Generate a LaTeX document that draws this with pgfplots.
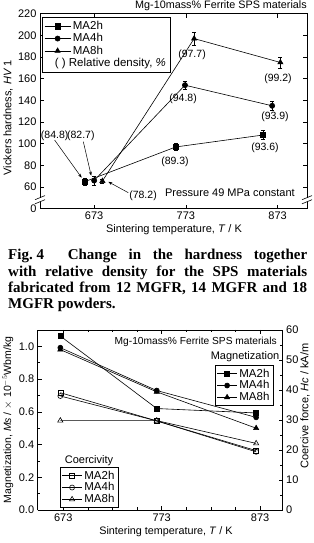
\documentclass[border=0pt]{standalone}
\usepackage{pgfplots}
\pgfplotsset{compat=1.18}
\usepackage{fontspec}
\setmainfont{Liberation Sans}
\newfontfamily\capfont{Liberation Serif}
\usetikzlibrary{arrows.meta}
\newcommand{\fs}[1]{\fontsize{#1}{#1}\selectfont}
\pgfplotsset{
  every axis/.append style={
    /pgf/number format/assume math mode=true,
    tick label style={font=\fs{11}},
    axis line style={line width=0.7pt},
    every tick/.style={line width=0.6pt, black},
    major tick length=4pt, minor tick length=2.5pt,
  },
  ebar/.style={error bars/.cd, y dir=both, y explicit,
    error bar style={line width=0.5pt}, error mark options={rotate=90, mark size=2pt, line width=0.5pt}},
}
\begin{document}
\begin{tikzpicture}
% ================= TOP CHART =================
\begin{scope}[shift={(40pt,334.3pt)}]
\begin{axis}[
  scale only axis, width=267pt, height=195pt,
  xmin=614, xmax=905, ymin=40, ymax=220,
  xtick={673,773,873},
  ytick={40,60,80,100,120,140,160,180,200,220},
  yticklabels={0,60,80,100,120,140,160,180,200,220},
  clip=false,
  legend cell align=left,
  legend style={at={(0.0075,0.983)}, anchor=north west, draw=black, line width=0.6pt,
    font=\fs{11.5}, row sep=-1.5pt, inner sep=2pt},
  legend image code/.code={\draw[mark repeat=2,mark phase=2,#1] plot coordinates {(0pt,0pt) (13pt,0pt) (26pt,0pt)};},
]
\addplot[black, line width=0.6pt, mark=square*, mark size=2.6pt, mark options={fill=black, solid}, ebar]
  coordinates {(663,65) +- (0,3) (762,97) +- (0,3) (857,108) +- (0,4)};
\addlegendentry{MA2h}
\addplot[black, line width=0.6pt, mark=*, mark size=2.6pt, mark options={fill=black}, ebar]
  coordinates {(673,66) +- (0,4) (772,154) +- (0,4) (867,135) +- (0,4)};
\addlegendentry{MA4h}
\addplot[black, line width=0.6pt, mark=triangle*, mark size=3pt, mark options={fill=black}, ebar]
  coordinates {(682,65.5) +- (0,2) (782,197) +- (0,6) (876,175) +- (0,5)};
\addlegendentry{MA8h}
\addlegendimage{empty legend}
\addlegendentry{\hspace*{-18pt}( ) Relative density, \textit{\%}}
% annotations
\begin{scope}[every node/.style={font=\fs{10.5}, inner sep=0pt}]
\node at (axis cs:630,107) {(84.8)};
\node at (axis cs:658.5,107) {(82.7)};
\node at (axis cs:726.3,51.7) {(78.2)};
\node at (axis cs:761.1,83.1) {(89.3)};
\node at (axis cs:859.2,96) {(93.6)};
\node at (axis cs:769.9,141.8) {(94.8)};
\node at (axis cs:870.1,124.7) {(93.9)};
\node at (axis cs:779.7,182) {(97.7)};
\node at (axis cs:873.4,159.8) {(99.2)};
\node[font=\fs{11}] at (axis cs:821,54.5) {Pressure 49 MPa constant};
\end{scope}
\draw[-{Stealth[length=4pt,width=3pt]}, line width=0.5pt] (axis cs:630,103.3) -- (axis cs:659.4,68.6);
\draw[-{Stealth[length=4pt,width=3pt]}, line width=0.5pt] (axis cs:661.2,101.9) -- (axis cs:669.8,70.5);
\draw[-{Stealth[length=4pt,width=3pt]}, line width=0.5pt] (axis cs:710.2,54.8) -- (axis cs:688.5,64.8);
% axis breaks
\fill[white] ([xshift=-5pt]axis cs:614,46.3) rectangle ([xshift=5pt]axis cs:614,50.2);
\draw[line width=0.6pt] ([xshift=-5pt]axis cs:614,44.5) -- ([xshift=5pt]axis cs:614,48.3);
\draw[line width=0.6pt] ([xshift=-5pt]axis cs:614,48.3) -- ([xshift=5pt]axis cs:614,52.1);
\fill[white] ([xshift=-5pt]axis cs:905,46.3) rectangle ([xshift=5pt]axis cs:905,50.2);
\draw[line width=0.6pt] ([xshift=-5pt]axis cs:905,44.5) -- ([xshift=5pt]axis cs:905,48.3);
\draw[line width=0.6pt] ([xshift=-5pt]axis cs:905,48.3) -- ([xshift=5pt]axis cs:905,52.1);
\end{axis}
\end{scope}
\node[anchor=east, font=\fs{10.8}, inner sep=0pt] at (307pt,537pt) {Mg-10mass\% Ferrite SPS materials};
\node[rotate=90, font=\fs{11}, inner sep=0pt] at (8pt,425pt) {Vickers hardness, \textit{HV}\,1};
\node[font=\fs{11}, inner sep=0pt] at (174pt,313pt) {Sintering temperature, \textit{T} / K};
% ================= CAPTION =================
\node[anchor=base west, inner sep=0pt] at (8pt,283pt) {\parbox[t]{299pt}{\capfont\bfseries\fontsize{15}{16.1}\selectfont
\mbox{Fig.~4}\hspace{0.8em} Change in the hardness together\linebreak
with relative density for the SPS materials\linebreak
fabricated from 12 MGFR, 14 MGFR and 18\linebreak
MGFR powders.}};
% ================= BOTTOM CHART =================
\begin{scope}[shift={(37.7pt,33pt)}]
\begin{axis}[
  scale only axis, width=245pt, height=180pt,
  xmin=647, xmax=896, ymin=0, ymax=1.1,
  axis y line*=left,
  xtick={673,773,873}, minor xtick={698,723,748,798,823,848},
  ytick={0,0.2,0.4,0.6,0.8,1.0}, minor ytick={0.1,0.3,0.5,0.7,0.9},
  yticklabel style={/pgf/number format/.cd,fixed,fixed zerofill,precision=1},
  legend cell align=left,
  legend style={at={(0.7237,0.8056)}, anchor=north west, draw=black, line width=0.6pt,
    font=\fs{11.5}, row sep=-2pt, inner sep=1.5pt},
  legend image code/.code={\draw[mark repeat=2,mark phase=2,#1] plot coordinates {(0pt,0pt) (10pt,0pt) (20pt,0pt)};},
]
\addplot[black, line width=0.6pt, mark=square*, mark size=2.5pt, mark options={fill=black}] coordinates {(670,1.063) (768,0.62) (869,0.593)};
\addlegendentry{MA2h}
\addplot[black, line width=0.6pt, mark=*, mark size=2.5pt, mark options={fill=black}] coordinates {(670,0.992) (768,0.73) (869,0.566)};
\addlegendentry{MA4h}
\addplot[black, line width=0.6pt, mark=triangle*, mark size=3pt, mark options={fill=black}] coordinates {(670,0.98) (768,0.722) (869,0.50)};
\addlegendentry{MA8h}
\end{axis}
\begin{axis}[
  scale only axis, width=245pt, height=180pt,
  xmin=647, xmax=896, ymin=0, ymax=60,
  axis y line*=right, axis x line=none,
  ytick={0,10,20,30,40,50,60}, minor ytick={5,15,25,35,45,55},
  legend cell align=left,
  legend style={at={(0.091,0.239)}, anchor=north west, draw=black, line width=0.6pt,
    font=\fs{11.5}, row sep=-2pt, inner sep=1.5pt},
  legend image code/.code={\draw[mark repeat=2,mark phase=2,#1] plot coordinates {(0pt,0pt) (10pt,0pt) (20pt,0pt)};},
]
\addplot[black, line width=0.6pt, mark=square, mark size=2.5pt, mark options={fill=white}] coordinates {(670,39.1) (768,29.7) (869,19.8)};
\addlegendentry{MA2h}
\addplot[black, line width=0.6pt, mark=o, mark size=2.5pt, mark options={fill=white}] coordinates {(670,38.0) (768,29.7) (869,19.4)};
\addlegendentry{MA4h}
\addplot[black, line width=0.6pt, mark=triangle, mark size=3pt, mark options={fill=white}] coordinates {(670,29.8) (768,29.8) (869,22.2)};
\addlegendentry{MA8h}
\end{axis}
\end{scope}
\node[anchor=east, font=\fs{10.2}, inner sep=0pt] at (277pt,201pt) {Mg-10mass\% Ferrite SPS materials};
\node[font=\fs{11}, inner sep=0pt] at (245pt,186.3pt) {Magnetization};
\node[font=\fs{11}, inner sep=0pt] at (89pt,82.3pt) {Coercivity};
\node[rotate=90, font=\fs{10.5}, inner sep=0pt] at (8pt,123pt) {Magnetization, \textit{Ms} / $\times$ 10$^{-5}$Wbm/kg};
\node[rotate=90, font=\fs{11}, inner sep=0pt] at (305pt,137pt) {Coercive force, \textit{Hc} / kA/m};
\node[font=\fs{10.8}, inner sep=0pt] at (166pt,11.3pt) {Sintering temperature, \textit{T} / K};
\pgfresetboundingbox
\useasboundingbox (0pt,0pt) rectangle (313pt,543pt);
\end{tikzpicture}
\end{document}
